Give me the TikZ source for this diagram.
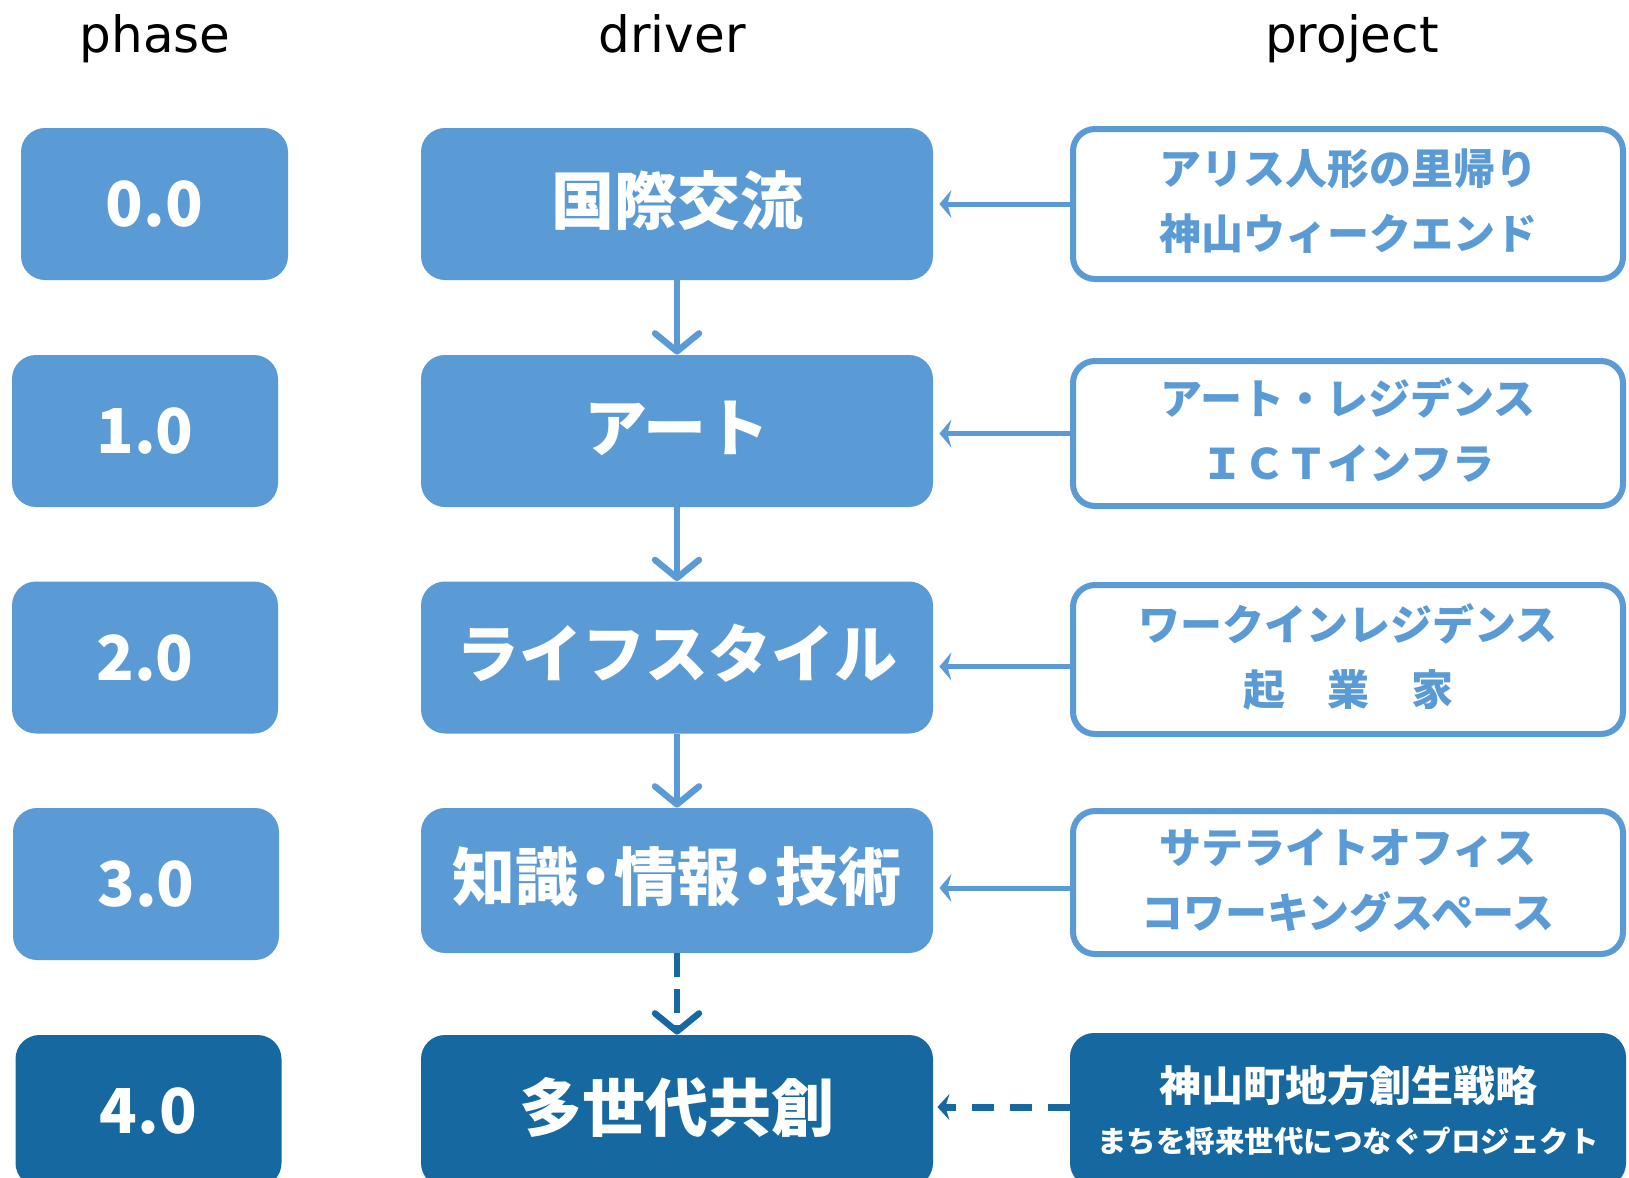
\documentclass[tikz,border=0pt]{standalone}
\usepackage{fontspec}
\newfontfamily\jp{Noto Sans CJK JP}
\newfontfamily\hdr{DejaVu Sans}
\usetikzlibrary{arrows.meta}
\definecolor{lb}{RGB}{91,155,213}
\definecolor{db}{RGB}{22,104,160}
\newcommand{\drvtext}[1]{\raisebox{-10pt}[0pt][0pt]{#1}}
\begin{document}
\begin{tikzpicture}[x=0.5pt,y=-0.5pt,
  hdrtext/.style={font=\hdr\fontsize{25}{25}\selectfont, anchor=base, text=black, inner sep=0},
  phasebox/.style={fill=lb, rounded corners=12pt, text=white, font=\jp\bfseries\fontsize{31}{31}\selectfont, minimum width=133pt, minimum height=76pt, inner sep=0},
  drvbox/.style={fill=lb, rounded corners=12pt, text=white, font=\jp\bfseries\fontsize{31.5}{31.5}\selectfont, minimum width=256pt, minimum height=76pt, inner sep=0},
  projbox/.style={draw=lb, line width=3pt, fill=white, rounded corners=11pt, text=lb, font=\jp\bfseries\fontsize{21}{32.5}\selectfont, align=center, minimum width=275pt, minimum height=75pt, inner sep=0},
  darkproj/.style={fill=db, draw=none, rounded corners=12pt, text=white, font=\jp\bfseries\fontsize{21}{25.5}\selectfont, align=center, minimum width=278pt, minimum height=77pt, inner sep=0},
  varrow/.style={draw=lb, line width=3.2pt, -{Straight Barb[length=9pt,width=22pt,round]}},
  harrow/.style={draw=lb, line width=2.5pt, -{Stealth[length=6pt,width=14pt,inset=2pt]}, shorten >=3pt},
  dharrow/.style={draw=db, line width=3.5pt, dash pattern=on 11pt off 8pt, -{Stealth[length=6pt,width=13pt,inset=2pt]}, shorten >=2pt},
]
\useasboundingbox (0,0) rectangle (1629,1178);
\fill[white] (0,0) rectangle (1629,1178);
% headers
\node[hdrtext] (hphase) at (155,53) {phase};
\node[hdrtext] (hdriver) at (672,53) {driver};
\node[hdrtext] (hproject) at (1352,53) {project};
% phases
\node[phasebox, minimum width=133.5pt] (p0) at (154.5,204) {0.0};
\node[phasebox] (p1) at (145,431) {1.0};
\node[phasebox] (p2) at (145,657.5) {2.0};
\node[phasebox] (p3) at (146,884) {3.0};
\node[phasebox, fill=db] (p4) at (148.5,1111) {4.0};
% drivers
\node[drvbox] (d0) at (677,204) {\drvtext{国際交流}};
\node[drvbox] (d1) at (677,431) {\drvtext{アート}};
\node[drvbox] (d2) at (677,657.5) {\drvtext{ライフスタイル}};
\node[drvbox, minimum height=72.5pt] (d3) at (677,880.5) {\drvtext{知識{\kern-.22em・\kern-.22em}情報{\kern-.22em・\kern-.22em}技術}};
\node[drvbox, fill=db] (d4) at (677,1111) {\drvtext{多世代共創}};
% projects
\node[projbox] (j0) at (1348,204) {\raisebox{1.5pt}{\begin{tabular}{@{}c@{}}アリス人形の里帰り\\神山ウィークエンド\end{tabular}}};
\node[projbox, minimum height=72.5pt] (j1) at (1348,433.5) {\raisebox{1.5pt}{\begin{tabular}{@{}c@{}}アート・レジデンス\\ＩＣＴインフラ\end{tabular}}};
\node[projbox, minimum height=74.5pt] (j2) at (1348,659.5) {\raisebox{1.5pt}{\begin{tabular}{@{}c@{}}ワークインレジデンス\\起　業　家\end{tabular}}};
\node[projbox, minimum height=71.5pt] (j3) at (1348,882.5) {\raisebox{1.5pt}{\begin{tabular}{@{}c@{}}サテライトオフィス\\コワーキングスペース\end{tabular}}};
\node[darkproj] (j4) at (1348,1110) {神山町地方創生戦略\\{\fontsize{14.75}{25.5}\selectfont まちを将来世代につなぐプロジェクト}};
% vertical arrows
\draw[varrow] (d0) -- (d1);
\draw[varrow] (d1) -- (d2);
\draw[varrow] (d2) -- (d3);
\draw[varrow, draw=db, dash pattern=on 12pt off 6pt] (d3) -- (d4);
% horizontal arrows
\draw[harrow] (j0.west) -- (j0.west -| d0.east);
\draw[harrow] (j1.west) -- (j1.west -| d1.east);
\draw[harrow] ([yshift=-3.5pt]j2.west) -- ([yshift=-3.5pt]j2.west -| d2.east);
\draw[harrow] ([yshift=-2.75pt]j3.west) -- ([yshift=-2.75pt]j3.west -| d3.east);
\draw[dharrow] ([yshift=1.5pt]j4.west) -- ([yshift=1.5pt]j4.west -| d4.east);
\end{tikzpicture}
\end{document}
